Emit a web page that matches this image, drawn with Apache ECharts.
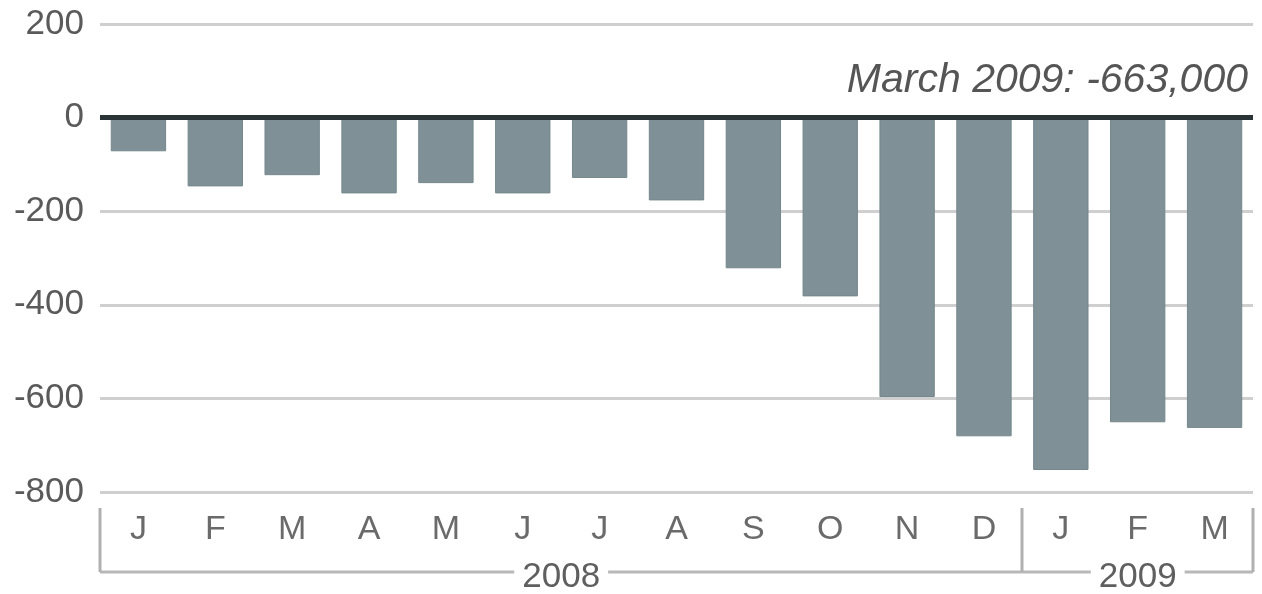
<!DOCTYPE html>
<html><head><meta charset="utf-8">
<script src="https://cdn.jsdelivr.net/npm/echarts@6/dist/echarts.min.js"></script>
<style>html,body{margin:0;padding:0;background:#fff}#c{width:1262px;height:594px}</style>
</head><body><div id="c"></div>
<script>
const months = ['J','F','M','A','M','J','J','A','S','O','N','D','J','F','M'];
const jobChanges = [-72,-147,-123,-162,-140,-162,-129,-177,-322,-382,-597,-681,-753,-651,-663];
const yearLabels = ['2008','2009'];
const yearStarts = [0,12];
const yearEnds = [11,14];
const yMin = -800, yMax = 200, yInterval = 200;
const annotationLabel = 'March 2009';

const FONT = '"Liberation Sans", Arial, sans-serif';
const chart = echarts.init(document.getElementById('c'));
const last = jobChanges.length - 1;
const annotation = annotationLabel + ': ' + (jobChanges[last]*1000).toLocaleString('en-US');

chart.setOption({
  animation:false,
  backgroundColor:'#fff',
  grid:{left:100,right:9,top:24,bottom:102,containLabel:false},
  xAxis:{type:'category',data:months,
    axisLine:{show:false},axisTick:{show:false},
    axisLabel:{color:'#6a6a6a',fontSize:34,fontFamily:FONT,margin:21}},
  yAxis:{type:'value',min:yMin,max:yMax,interval:yInterval,
    axisLine:{show:false},axisTick:{show:false},
    axisLabel:{color:'#5a5a5a',fontSize:35,fontFamily:FONT,margin:16}},
  series:[{type:'bar',data:jobChanges,barWidth:'72%',
    itemStyle:{color:'#7f9196',borderColor:'#75878c',borderWidth:1},
    markLine:{silent:true,symbol:'none',label:{show:false},
      lineStyle:{color:'#2a3436',width:5,type:'solid'},
      data:[{yAxis:0}]}}]
});
chart.setOption({yAxis:{splitLine:{lineStyle:{color:'#cfcfcf',width:3}}}});

// year brackets computed from the axis scales
const x0 = chart.convertToPixel({xAxisIndex:0},0);
const x1 = chart.convertToPixel({xAxisIndex:0},1);
const bw = x1 - x0;
const yBase = chart.convertToPixel({yAxisIndex:0},yMin);
const yTop = yBase + 16, yBot = yBase + 80;
const g = [];
g.push({id:'annot',type:'text',right:14,top:60,z:5,
  style:{text:annotation,fill:'#555',font:'italic 41px '+FONT,textAlign:'right'}});
const leftAll = x0 - bw/2;
const rightAll = chart.convertToPixel({xAxisIndex:0},last) + bw/2;
g.push({id:'hline',type:'line',shape:{x1:leftAll,y1:yBot,x2:rightAll,y2:yBot},style:{stroke:'#b8b8b8',lineWidth:3},z:1});
const bounds = new Set();
yearLabels.forEach((lab,i)=>{
  const l = chart.convertToPixel({xAxisIndex:0},yearStarts[i]) - bw/2;
  const r = chart.convertToPixel({xAxisIndex:0},yearEnds[i]) + bw/2;
  bounds.add(Math.round(l)); bounds.add(Math.round(r));
  g.push({id:'year'+i,type:'text',x:(l+r)/2,y:yBot+5,z:3,
    style:{text:lab,fill:'#5f5f5f',font:'35px '+FONT,textAlign:'center',textVerticalAlign:'middle',
      backgroundColor:'#fff',padding:[0,8]}});
});
let k = 0;
bounds.forEach(b=>{
  g.push({id:'vline'+(k++),type:'line',shape:{x1:b,y1:yTop,x2:b,y2:yBot},style:{stroke:'#b0b0b0',lineWidth:3},z:2});
});
chart.setOption({graphic:g});
</script></body></html>
